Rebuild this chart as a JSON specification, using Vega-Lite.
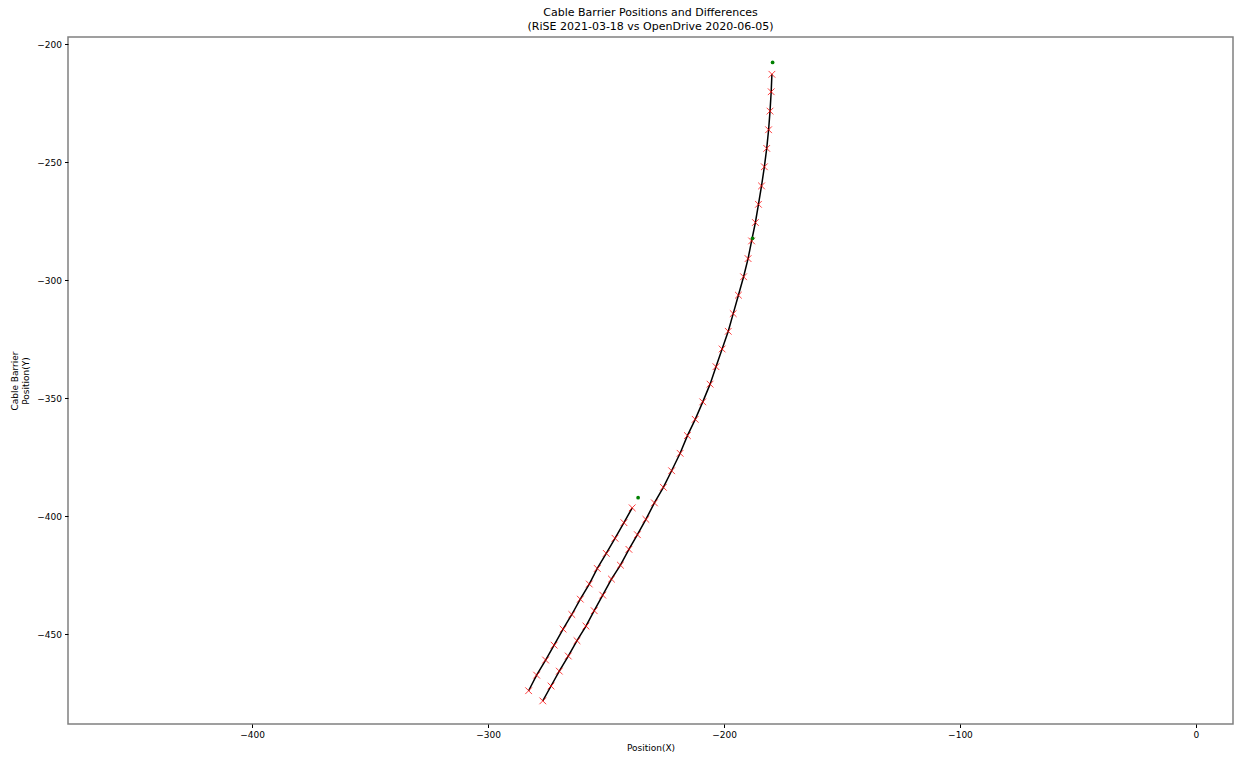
{
  "$schema": "https://vega.github.io/schema/vega-lite/v6.json",
  "width": 1165,
  "height": 687,
  "autosize": {"type": "none"},
  "padding": {"left": 68, "top": 37, "right": 7, "bottom": 33},
  "background": "white",
  "config": {
    "font": "DejaVu Sans",
    "view": {"stroke": "#808080", "strokeWidth": 1.5},
    "axis": {"domain": false, "grid": false, "tickColor": "#000", "tickSize": 3.5, "labelColor": "#000", "labelFontSize": 9, "titleFontSize": 9, "titleFontWeight": "normal", "titleColor": "#000", "labelPadding": 3}
  },
  "title": {
    "text": ["Cable Barrier Positions and Differences", "(RiSE 2021-03-18 vs OpenDrive 2020-06-05)"],
    "fontSize": 11, "fontWeight": "normal", "color": "#000", "anchor": "middle", "offset": 5, "lineHeight": 14
  },
  "data": {"values": [
    {"series": "A", "seq": 1, "kind": "barrier", "x": -179.7, "y": -212.8},
    {"series": "A", "seq": 2, "kind": "barrier", "x": -180.0, "y": -220.2},
    {"series": "A", "seq": 3, "kind": "barrier", "x": -180.5, "y": -228.4},
    {"series": "A", "seq": 4, "kind": "barrier", "x": -181.1, "y": -236.3},
    {"series": "A", "seq": 5, "kind": "barrier", "x": -181.9, "y": -244.2},
    {"series": "A", "seq": 6, "kind": "barrier", "x": -182.9, "y": -252.0},
    {"series": "A", "seq": 7, "kind": "barrier", "x": -184.1, "y": -260.1},
    {"series": "A", "seq": 8, "kind": "barrier", "x": -185.4, "y": -267.9},
    {"series": "A", "seq": 9, "kind": "barrier", "x": -186.7, "y": -275.6},
    {"series": "A", "seq": 10, "kind": "barrier", "x": -188.3, "y": -283.4},
    {"series": "A", "seq": 11, "kind": "barrier", "x": -189.8, "y": -290.9},
    {"series": "A", "seq": 12, "kind": "barrier", "x": -191.7, "y": -298.6},
    {"series": "A", "seq": 13, "kind": "barrier", "x": -193.9, "y": -306.4},
    {"series": "A", "seq": 14, "kind": "barrier", "x": -196.1, "y": -314.2},
    {"series": "A", "seq": 15, "kind": "barrier", "x": -198.2, "y": -321.7},
    {"series": "A", "seq": 16, "kind": "barrier", "x": -200.8, "y": -329.2},
    {"series": "A", "seq": 17, "kind": "barrier", "x": -203.4, "y": -336.7},
    {"series": "A", "seq": 18, "kind": "barrier", "x": -205.9, "y": -344.1},
    {"series": "A", "seq": 19, "kind": "barrier", "x": -209.0, "y": -351.6},
    {"series": "A", "seq": 20, "kind": "barrier", "x": -212.2, "y": -359.0},
    {"series": "A", "seq": 21, "kind": "barrier", "x": -215.5, "y": -365.9},
    {"series": "A", "seq": 22, "kind": "barrier", "x": -218.6, "y": -373.4},
    {"series": "A", "seq": 23, "kind": "barrier", "x": -222.2, "y": -380.8},
    {"series": "A", "seq": 24, "kind": "barrier", "x": -225.7, "y": -387.8},
    {"series": "A", "seq": 25, "kind": "barrier", "x": -229.5, "y": -394.4},
    {"series": "A", "seq": 26, "kind": "barrier", "x": -233.1, "y": -401.4},
    {"series": "A", "seq": 27, "kind": "barrier", "x": -236.7, "y": -407.9},
    {"series": "A", "seq": 28, "kind": "barrier", "x": -240.3, "y": -414.1},
    {"series": "A", "seq": 29, "kind": "barrier", "x": -243.9, "y": -420.8},
    {"series": "A", "seq": 30, "kind": "barrier", "x": -247.7, "y": -426.7},
    {"series": "A", "seq": 31, "kind": "barrier", "x": -251.4, "y": -433.5},
    {"series": "A", "seq": 32, "kind": "barrier", "x": -255.0, "y": -440.1},
    {"series": "A", "seq": 33, "kind": "barrier", "x": -258.5, "y": -446.6},
    {"series": "A", "seq": 34, "kind": "barrier", "x": -262.3, "y": -452.8},
    {"series": "A", "seq": 35, "kind": "barrier", "x": -266.0, "y": -459.3},
    {"series": "A", "seq": 36, "kind": "barrier", "x": -269.8, "y": -465.7},
    {"series": "A", "seq": 37, "kind": "barrier", "x": -273.3, "y": -472.0},
    {"series": "A", "seq": 38, "kind": "barrier", "x": -276.8, "y": -478.3},
    {"series": "B", "seq": 1, "kind": "barrier", "x": -238.9, "y": -396.5},
    {"series": "B", "seq": 2, "kind": "barrier", "x": -242.4, "y": -402.8},
    {"series": "B", "seq": 3, "kind": "barrier", "x": -246.2, "y": -409.4},
    {"series": "B", "seq": 4, "kind": "barrier", "x": -249.9, "y": -415.8},
    {"series": "B", "seq": 5, "kind": "barrier", "x": -253.7, "y": -422.2},
    {"series": "B", "seq": 6, "kind": "barrier", "x": -257.1, "y": -428.8},
    {"series": "B", "seq": 7, "kind": "barrier", "x": -260.9, "y": -435.2},
    {"series": "B", "seq": 8, "kind": "barrier", "x": -264.5, "y": -441.7},
    {"series": "B", "seq": 9, "kind": "barrier", "x": -268.2, "y": -447.9},
    {"series": "B", "seq": 10, "kind": "barrier", "x": -272.0, "y": -454.7},
    {"series": "B", "seq": 11, "kind": "barrier", "x": -275.6, "y": -461.0},
    {"series": "B", "seq": 12, "kind": "barrier", "x": -279.4, "y": -467.4},
    {"series": "B", "seq": 13, "kind": "barrier", "x": -282.8, "y": -474.0},
    {"series": "R", "seq": 1, "kind": "reference", "x": -179.4, "y": -207.8},
    {"series": "R", "seq": 2, "kind": "reference", "x": -187.9, "y": -282.3},
    {"series": "R", "seq": 3, "kind": "reference", "x": -236.4, "y": -392.2}
  ]},
  "encoding": {
    "x": {"field": "x", "type": "quantitative", "title": "Position(X)",
      "scale": {"domain": [-478, 15.7], "nice": false, "zero": false},
      "axis": {"values": [-400, -300, -200, -100, 0], "titlePadding": 4}},
    "y": {"field": "y", "type": "quantitative", "title": ["Cable Barrier", "Position(Y)"],
      "scale": {"domain": [-488.1, -197.0], "nice": false, "zero": false},
      "axis": {"values": [-200, -250, -300, -350, -400, -450], "titlePadding": 6}}
  },
  "layer": [
    {
      "transform": [{"filter": "datum.kind === 'barrier'"}],
      "mark": {"type": "line", "color": "#000", "strokeWidth": 1.5},
      "encoding": {"detail": {"field": "series"}, "order": {"field": "seq", "type": "quantitative"}}
    },
    {
      "transform": [{"filter": "datum.kind === 'barrier'"}],
      "mark": {"type": "point", "shape": "M-1,-1L1,1M-1,1L1,-1", "filled": false, "stroke": "#ff0000", "strokeWidth": 1, "opacity": 0.75, "size": 45}
    },
    {
      "transform": [{"filter": "datum.kind === 'reference'"}],
      "mark": {"type": "point", "shape": "circle", "filled": true, "color": "#008000", "opacity": 1, "size": 14}
    }
  ]
}
